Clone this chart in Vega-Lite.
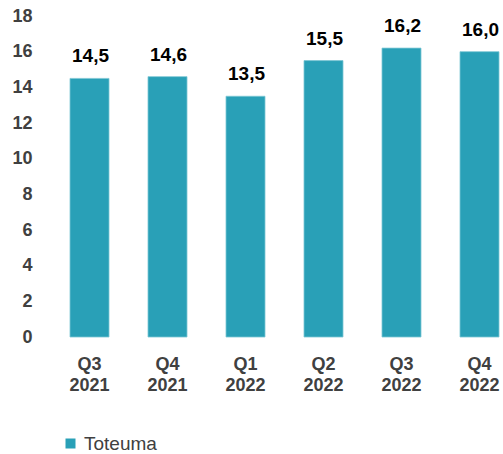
{
  "$schema": "https://vega.github.io/schema/vega-lite/v6.json",
  "autosize": "none",
  "width": 429,
  "height": 321,
  "padding": {"left": 70, "top": 16, "right": 4, "bottom": 117},
  "background": "white",
  "config": {
    "view": {"stroke": null},
    "font": "Liberation Sans",
    "locale": {"number": {"decimal": ",", "thousands": " ", "grouping": [3], "currency": ["", " €"]}}
  },
  "data": {
    "values": [
      {"quarter": "Q3 2021", "value": 14.5, "series": "Toteuma"},
      {"quarter": "Q4 2021", "value": 14.6, "series": "Toteuma"},
      {"quarter": "Q1 2022", "value": 13.5, "series": "Toteuma"},
      {"quarter": "Q2 2022", "value": 15.5, "series": "Toteuma"},
      {"quarter": "Q3 2022", "value": 16.2, "series": "Toteuma"},
      {"quarter": "Q4 2022", "value": 16.0, "series": "Toteuma"}
    ]
  },
  "encoding": {
    "x": {
      "field": "quarter", "type": "nominal", "sort": null,
      "scale": {"paddingInner": 0.5, "paddingOuter": 0},
      "axis": {
        "title": null, "domain": false, "ticks": false, "grid": false,
        "labelAngle": 0, "labelFontSize": 18, "labelFontWeight": "bold",
        "labelColor": "#404040", "labelPadding": 18, "labelLineHeight": 21,
        "labelExpr": "split(datum.label, ' ')"
      }
    },
    "y": {
      "field": "value", "type": "quantitative",
      "scale": {"domain": [0, 18], "nice": false},
      "axis": {
        "title": null, "domain": false, "ticks": false, "grid": false,
        "values": [0, 2, 4, 6, 8, 10, 12, 14, 16, 18],
        "labelFontSize": 18, "labelFontWeight": "bold", "labelColor": "#404040",
        "labelPadding": 38
      }
    }
  },
  "layer": [
    {
      "mark": {"type": "bar", "stroke": "#7cc6d4", "strokeWidth": 0.8},
      "encoding": {
        "color": {
          "field": "series", "type": "nominal",
          "scale": {"range": ["#29A0B7"]},
          "legend": {
            "title": null, "orient": "none", "legendX": -9, "legendY": 418,
            "symbolType": "square", "symbolSize": 100, "symbolStrokeWidth": 0,
            "labelFontSize": 19, "labelColor": "#404040", "labelOffset": 4, "padding": 0
          }
        }
      }
    },
    {
      "mark": {"type": "text", "dy": -16, "baseline": "alphabetic", "fontSize": 19, "fontWeight": "bold", "color": "#000000", "dx": 1},
      "encoding": {
        "text": {"field": "value", "type": "quantitative", "format": ".1f"}
      }
    }
  ]
}
